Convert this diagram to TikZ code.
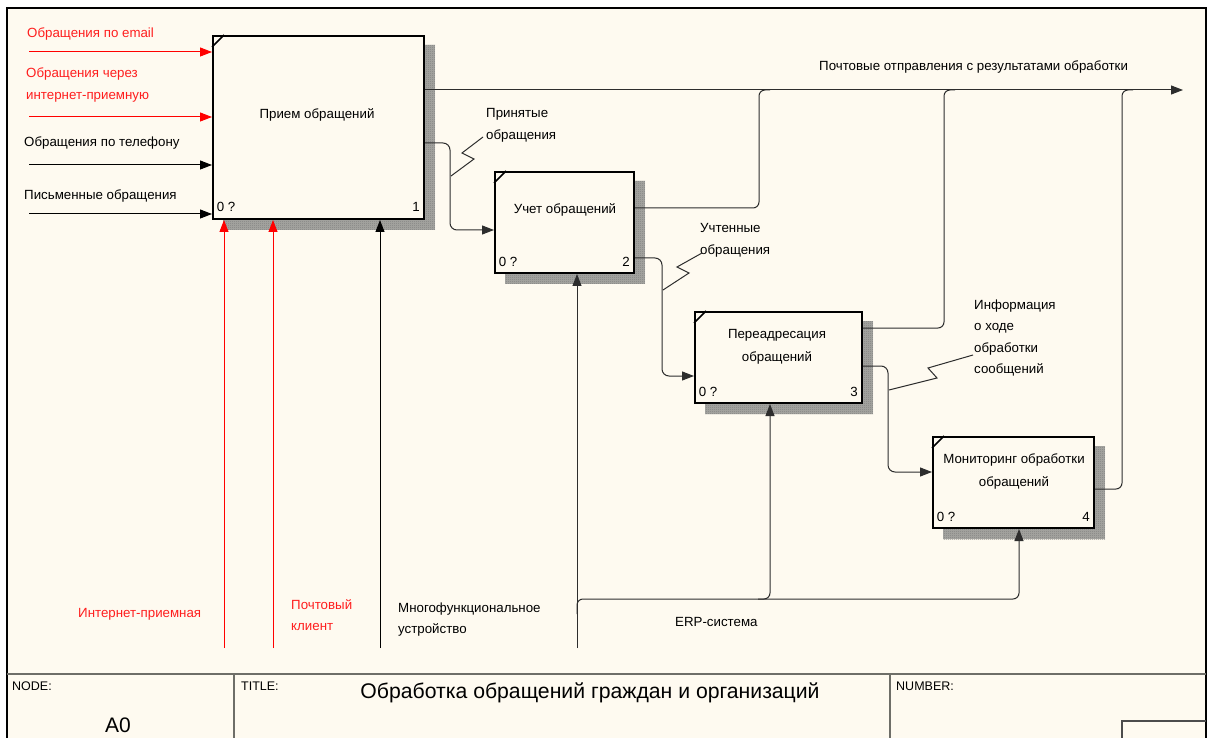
\documentclass[tikz,border=0pt]{standalone}
\usepackage{fontspec}
\setmainfont{Liberation Sans}
\usetikzlibrary{arrows.meta,patterns.meta}

\definecolor{paper}{RGB}{254,250,240}
\definecolor{idefred}{RGB}{255,30,30}
\definecolor{wirecol}{RGB}{45,45,45}
\definecolor{rulecol}{RGB}{110,110,104}
\definecolor{shadowcol}{RGB}{168,168,164}

% fine 1pt checkerboard used for the activity shadows
\tikzdeclarepattern{
  name=dither, type=uncolored,
  bottom left={(0pt,0pt)}, top right={(2pt,2pt)}, tile size={(2pt,2pt)},
  code={\fill (0pt,0pt) rectangle (1pt,1pt); \fill (1pt,1pt) rectangle (2pt,2pt);}
}

\newcommand\stackL[1]{\begin{tabular}[t]{@{}l@{}}#1\end{tabular}}
\newcommand\stackC[1]{\begin{tabular}[t]{@{}c@{}}#1\end{tabular}}

\tikzset{
  tip/.tip={Triangle[length=12pt,width=9pt]},
  actbox/.style={draw=black, line width=2pt, fill=paper, inner sep=0pt, anchor=north west},
  wire/.style={draw=wirecol, line width=1pt},
  redwire/.style={draw=red, line width=1pt},
  lbl/.style={inner sep=0pt, font=\fontsize{13.3}{21.6}\selectfont},
  boxtext/.style={inner sep=0pt, anchor=base, font=\fontsize{13.3}{23}\selectfont},
  corner/.style={line width=1.5pt},
  formtext/.style={inner sep=0pt, anchor=base west, font=\fontsize{12.5}{14}\selectfont},
}

% activity box: name, left x, top y, width, height, number
\newcommand\activity[6]{%
  \fill[shadowcol] (#2+11,#3+10) rectangle (#2+#4+12,#3+#5+12);
  \fill[pattern=dither, pattern color=black!55] (#2+11,#3+10) rectangle (#2+#4+12,#3+#5+12);
  \node[actbox, minimum width=#4pt, minimum height=#5pt] (#1) at (#2,#3) {};
  \draw[corner] ([yshift=-12pt]#1.north west) -- ([xshift=12pt]#1.north west);
  \node[lbl, anchor=base] at ([xshift=14pt,yshift=8pt]#1.south west) {0 ?};
  \node[lbl, anchor=base] at ([xshift=-9pt,yshift=8pt]#1.south east) {#6};
}

\begin{document}
\begin{tikzpicture}[x=1pt,y=-1pt]
\useasboundingbox (0,0) rectangle (1208,738);
\clip (0,0) rectangle (1208,738);
\fill[white] (0,0) rectangle (1208,738);

% sheet
\fill[paper] (7,8) rectangle (1206,760);
\draw[line width=2pt] (7,760) -- (7,8) -- (1206,8) -- (1206,760);

% form footer
\draw[rulecol, line width=1.6pt] (7,674) -- (1206,674);
\draw[rulecol, line width=1.4pt] (234,674) -- (234,760);
\draw[rulecol, line width=1.4pt] (890,674) -- (890,760);
\draw[black!70, line width=1.4pt] (1122,760) -- (1122,721) -- (1206,721);
\node[formtext] (fnode) at (12,690) {NODE:};
\node[formtext] (ftitle) at (241,690) {TITLE:};
\node[formtext] (fnum) at (896,690) {NUMBER:};
\node[inner sep=0pt, anchor=base, font=\fontsize{21}{24}\selectfont] (fa0) at (118,732) {A0};
\node[inner sep=0pt, anchor=base, font=\fontsize{21.2}{24}\selectfont] (ftext) at (590,698) {Обработка обращений граждан и организаций};

% activities
\activity{b1}{212}{35}{211}{183}{1}
\activity{b2}{494}{171}{139}{101}{2}
\activity{b3}{694}{311}{167}{91}{3}
\activity{b4}{932}{436}{161}{91}{4}

\node[boxtext] (t1) at (317,119) {Прием обращений};
\node[boxtext] (t2) at (565,214) {Учет обращений};
\node[boxtext] (t3) at (777,338) {\stackC{Переадресация\\обращений}};
\node[boxtext] (t4) at (1014,463) {\stackC{Мониторинг обработки\\обращений}};

% free ends
\coordinate (i1) at (29,52);
\coordinate (i2) at (29,117);
\coordinate (i3) at (29,165);
\coordinate (i4) at (29,214);
\coordinate (m1) at (224,648);
\coordinate (m2) at (273,648);
\coordinate (m3) at (380,648);
\coordinate (m4) at (577,648);
\coordinate (outR) at (1183,90);

% inputs of activity 1
\draw[redwire, -{tip[red]}] (i1) -- ([yshift=-17pt]b1.north west);
\draw[redwire, -{tip[red]}] (i2) -- ([yshift=-82pt]b1.north west);
\draw[draw=black, line width=1pt, -tip] (i3) -- ([yshift=-130pt]b1.north west);
\draw[draw=black, line width=1pt, -tip] (i4) -- ([yshift=-179pt]b1.north west);

\node[lbl, anchor=base west, text=idefred] (li1) at (27,38) {Обращения по email};
\node[lbl, anchor=base west, text=idefred] (li2) at (26,78) {\stackL{Обращения через\\интернет-приемную}};
\node[lbl, anchor=base west] (li3) at (24,147) {Обращения по телефону};
\node[lbl, anchor=base west] (li4) at (24,200) {Письменные обращения};

% mechanisms of activity 1
\draw[redwire, -{tip[red]}] (m1) -- ([xshift=12pt]b1.south west);
\draw[redwire, -{tip[red]}] (m2) -- ([xshift=61pt]b1.south west);
\draw[draw=black, line width=1pt, -tip] (m3) -- ([xshift=168pt]b1.south west);

\node[lbl, anchor=base west, text=idefred] (lm1) at (78,617) {Интернет-приемная};
\node[lbl, anchor=base west, text=idefred] (lm2) at (291,609) {\stackL{Почтовый\\клиент}};
\node[lbl, anchor=base west] (lm3) at (398,612) {\stackL{Многофункциональное\\устройство}};

% ERP system feeding activities 2, 3, 4
\draw[wire, -tip] (m4) -- ([xshift=83pt]b2.south west);
\draw[wire, rounded corners=6pt, -tip] (577,614) -- (577,599) -- (1019,599) -- ([xshift=87pt]b4.south west);
\draw[wire, rounded corners=6pt, -tip] (758,599) -- (770,599) -- ([xshift=76pt]b3.south west);
\node[lbl, anchor=base west] (lerp) at (675,626) {ERP-система};

% main output
\draw[wire, -tip] ([yshift=-55pt]b1.north east) -- (outR);
\node[lbl, anchor=base west] (lout) at (819,71) {Почтовые отправления с результатами обработки};
\draw[wire, rounded corners=6pt] ([yshift=-37pt]b2.north east) -- (759,208) -- (759,90) -- (770,90);
\draw[wire, rounded corners=6pt] ([yshift=-17pt]b3.north east) -- (944,328) -- (944,90) -- (955,90);
\draw[wire, rounded corners=6pt] ([yshift=-53pt]b4.north east) -- (1122,489) -- (1122,90) -- (1133,90);

% flows between activities
\draw[wire, rounded corners=7pt, -tip] ([yshift=-108pt]b1.north east) -- (450,143) -- (450,230) -- ([yshift=-59pt]b2.north west);
\draw[wire, rounded corners=7pt, -tip] ([yshift=-87pt]b2.north east) -- (662,258) -- (662,376) -- ([yshift=-65pt]b3.north west);
\draw[wire, rounded corners=7pt, -tip] ([yshift=-55pt]b3.north east) -- (888,366) -- (888,472) -- ([yshift=-36pt]b4.north west);

% labels with squiggles
\node[lbl, anchor=base west] (l12) at (486,118) {\stackL{Принятые\\обращения}};
\draw[wire] (483,137) -- (462,153) -- (474,159) -- (451,176);
\node[lbl, anchor=base west] (l23) at (700,233) {\stackL{Учтенные\\обращения}};
\draw[wire] (702,253) -- (677,267) -- (689,273) -- (663,290);
\node[lbl, anchor=base west] (l34) at (974,309) {\stackL{Информация\\о ходе\\обработки\\сообщений}};
\draw[wire] (973,355) -- (928,368) -- (937,378) -- (889,390);
\end{tikzpicture}
\end{document}
